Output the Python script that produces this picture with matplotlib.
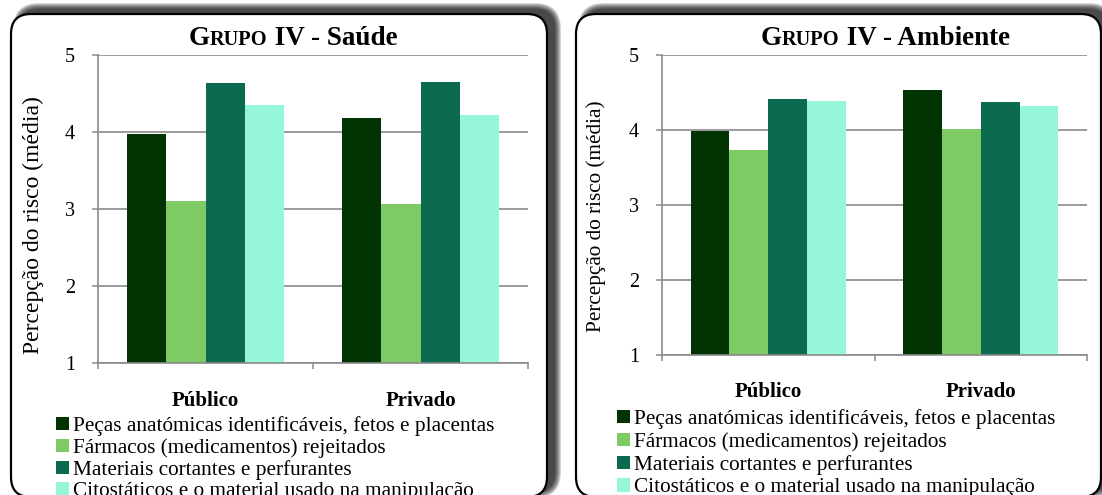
import matplotlib
matplotlib.use("Agg")
import matplotlib.pyplot as plt
from matplotlib.patches import FancyBboxPatch, Patch
from matplotlib.transforms import IdentityTransform

plt.rcParams['font.family'] = ['Liberation Serif', 'DejaVu Serif']

categories = ["Público", "Privado"]
series_names = [
    "Peças anatómicas identificáveis, fetos e placentas",
    "Fármacos (medicamentos) rejeitados",
    "Materiais cortantes e perfurantes",
    "Citostáticos e o material usado na manipulação",
]
saude_values = [
    [3.98, 4.18],
    [3.11, 3.06],
    [4.63, 4.65],
    [4.35, 4.22],
]
ambiente_values = [
    [3.99, 4.54],
    [3.73, 4.01],
    [4.41, 4.38],
    [4.39, 4.32],
]
yticks = [1, 2, 3, 4, 5]
colors = ['#023302', '#7ECB66', '#0B6A4F', '#95F6D9']
grid_color = '#8A8A8A'

W, H = 1102, 495
fig = plt.figure(figsize=(W / 100, H / 100), dpi=100)
fig.patch.set_facecolor('white')


def panel(x0, y0_top, x1, y1_top):
    # rounded panel with a soft shadow to the upper right (pixel coords)
    x, y = x0, H - y1_top
    w, h = x1 - x0, y1_top - y0_top
    dx, dy = 8, 5
    for s in range(6, -1, -1):
        sh = FancyBboxPatch((x + dx, y + dy), w, h,
                            boxstyle=f"round,pad={s},rounding_size={20 + s}",
                            transform=IdentityTransform(), facecolor='black',
                            edgecolor='none', alpha=0.16, zorder=-3)
        fig.add_artist(sh)
    p = FancyBboxPatch((x, y), w, h, boxstyle="round,pad=0,rounding_size=20",
                       transform=IdentityTransform(), facecolor='white',
                       edgecolor='black', linewidth=1.6, zorder=-2)
    fig.add_artist(p)


panel(11, 14, 547, 497)
panel(576, 14, 1101, 497)


def draw(ax, values, title_text, title_x, ylabel_size, label_coords, cat_pad,
         legend_anchor, lspacing):
    n = len(values)
    w = 0.1826
    for i, vals in enumerate(values):
        xs = [c + (i - (n - 1) / 2) * w for c in range(len(categories))]
        ax.bar(xs, [v - 1 for v in vals], bottom=1, width=w, color=colors[i],
               label=series_names[i], zorder=2, linewidth=0)
    ax.set_xlim(-0.5, len(categories) - 0.5)
    ax.set_ylim(1, 5)
    ax.set_yticks(yticks)
    ax.set_yticklabels([str(t) for t in yticks], fontsize=14.5)
    ax.set_xticks(range(len(categories)))
    ax.set_xticklabels(categories, fontsize=15, fontweight='bold')
    ax.set_xticks([-0.5, 0.5, 1.5], minor=True)
    ax.tick_params(axis='x', which='major', length=0, pad=cat_pad)
    ax.tick_params(axis='x', which='minor', length=4.5, width=1.1, color=grid_color, direction='out')
    ax.tick_params(axis='y', length=4.5, width=1.1, color=grid_color, direction='out', pad=12)
    ax.yaxis.grid(True, color=grid_color, linewidth=1.2)
    ax.set_axisbelow(True)
    for s in ['top', 'right']:
        ax.spines[s].set_visible(False)
    for s in ['left', 'bottom']:
        ax.spines[s].set_color(grid_color)
        ax.spines[s].set_linewidth(1.2)
    ax.set_facecolor('none')
    ax.set_ylabel("Percepção do risco (média)", fontsize=ylabel_size)
    ax.yaxis.set_label_coords(*label_coords)

    # title with small caps
    base = H - 45
    big = 19.5
    t1 = fig.text(title_x / W, base / H, "G", fontsize=big, fontweight='bold', va='baseline')
    t2 = ax.annotate("RUPO", xy=(1, base), xycoords=(t1, 'figure pixels'),
                     fontsize=big * 0.75, fontweight='bold', va='baseline', ha='left',
                     annotation_clip=False)
    ax.annotate(" IV - " + title_text, xy=(1, base), xycoords=(t2, 'figure pixels'),
                fontsize=big, fontweight='bold', va='baseline', ha='left',
                annotation_clip=False)

    handles = [Patch(facecolor=colors[i], edgecolor='none') for i in range(n)]
    fig.legend(handles, series_names, loc='upper left',
               bbox_to_anchor=(legend_anchor[0] / W, 1 - legend_anchor[1] / H),
               frameon=False, fontsize=15.3, borderpad=0, borderaxespad=0,
               handlelength=0.6, handleheight=0.6, handletextpad=0.2,
               labelspacing=lspacing)


ax1 = fig.add_axes([98 / W, (H - 363) / H, 430 / W, 308 / H])
draw(ax1, saude_values, "Saúde", 189, 17, (-0.126, 0.448), 20.5, (56, 416), 0.1)

ax2 = fig.add_axes([662 / W, (H - 355) / H, 425 / W, 300 / H])
draw(ax2, ambiente_values, "Ambiente", 761, 15.3, (-0.132, 0.463), 19.5, (617, 409), 0.15)

fig.savefig("out.png", dpi=100, facecolor='white')
